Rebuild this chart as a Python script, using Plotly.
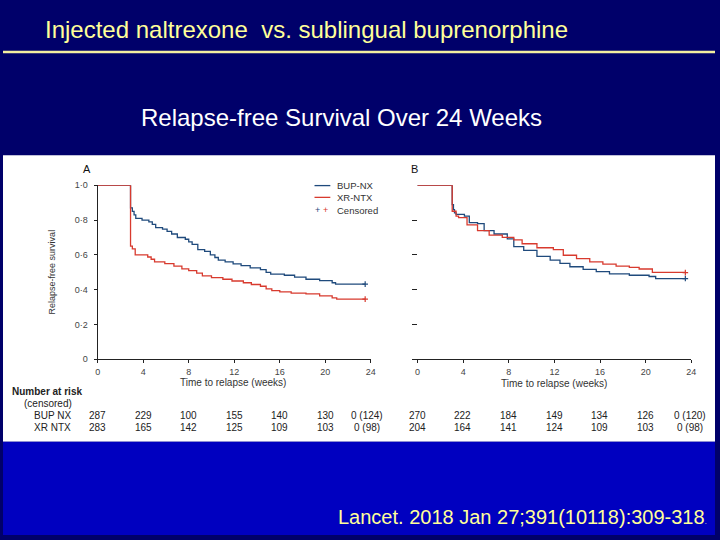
import plotly.graph_objects as go

W, H = 720, 540

# ---------------- data ----------------
weeks_ticks = [0, 4, 8, 12, 16, 20, 24]
y_tick_vals = [0, 0.2, 0.4, 0.6, 0.8, 1.0]
y_tick_text = ["0", "0·2", "0·4", "0·6", "0·8", "1·0"]

a_bup_weeks = [0, 2.89, 3.05, 3.2, 3.35, 3.9, 4.5, 4.8, 5.1, 5.7, 6.1, 6.5, 7.0, 7.7, 8.0, 8.3, 8.8, 9.4,
               9.9, 10.3, 10.6, 11.2, 11.9, 12.6, 13.4, 14.3, 14.8, 15.2, 16.4, 17.3, 18.3, 19.5, 20.6, 20.9, 23.5]
a_bup_surv = [1.0, 0.87, 0.85, 0.83, 0.81, 0.80, 0.79, 0.775, 0.757, 0.748, 0.735, 0.72, 0.70, 0.69, 0.675, 0.66,
              0.63, 0.62, 0.60, 0.585, 0.57, 0.56, 0.548, 0.538, 0.525, 0.515, 0.50, 0.49, 0.483, 0.472, 0.46,
              0.452, 0.44, 0.432, 0.432]

a_ntx_weeks = [0, 2.89, 3.05, 3.3, 4.4, 4.7, 5.0, 5.9, 6.7, 7.4, 8.0, 8.7, 9.2, 10.0, 11.0, 11.8, 12.8, 13.5,
               14.3, 14.8, 15.3, 16.0, 17.0, 18.3, 19.5, 20.6, 21.0, 23.5]
a_ntx_surv = [1.0, 0.65, 0.635, 0.60, 0.588, 0.575, 0.56, 0.55, 0.535, 0.52, 0.51, 0.495, 0.48, 0.47, 0.46, 0.45,
              0.44, 0.43, 0.42, 0.405, 0.395, 0.388, 0.38, 0.376, 0.365, 0.353, 0.346, 0.346]

b_bup_weeks = [0, 3.04, 3.15, 3.24, 3.38, 4.11, 4.54, 5.26, 5.84, 6.71, 7.87, 8.44, 9.31, 10.47, 11.63, 12.49,
               13.36, 14.52, 15.67, 16.83, 18.57, 20.3, 20.88, 23.48]
b_bup_surv = [1.0, 0.889, 0.86, 0.842, 0.833, 0.823, 0.786, 0.78, 0.739, 0.72, 0.692, 0.648, 0.626, 0.592, 0.57,
              0.551, 0.532, 0.517, 0.504, 0.491, 0.483, 0.476, 0.464, 0.464]

b_ntx_weeks = [0, 3.04, 3.38, 3.6, 4.34, 5.26, 6.28, 7.43, 8.44, 9.17, 10.47, 11.91, 12.78, 13.94, 15.1, 16.25,
               17.41, 18.57, 19.43, 20.59, 23.48]
b_ntx_surv = [1.0, 0.851, 0.823, 0.814, 0.773, 0.739, 0.714, 0.701, 0.686, 0.664, 0.641, 0.63, 0.598, 0.579,
              0.56, 0.547, 0.536, 0.528, 0.519, 0.50, 0.498]

risk_a_bup = ["287", "229", "100", "155", "140", "130", "0 (124)"]
risk_a_ntx = ["283", "165", "142", "125", "109", "103", "0 (98)"]
risk_b_bup = ["270", "222", "184", "149", "134", "126", "0 (120)"]
risk_b_ntx = ["204", "164", "141", "124", "109", "103", "0 (98)"]

# ---------------- styles ----------------
NAVY_TOP = "#00006a"
BLUE_BOT = "#0000c0"
YELLOW = "#ffff99"
C_BUP = "#1f4a7c"
C_NTX = "#d83a2e"
GREY = "#333333"
NARROW = "Liberation Sans Narrow, Arial Narrow, Liberation Sans, sans-serif"
SANS = "Liberation Sans, Arial, sans-serif"


def px(x):
    return x / W


def py(y):
    return 1 - y / H


fig = go.Figure()

for xa, ya, wk, sv, col in [
    ("x", "y", a_bup_weeks, a_bup_surv, C_BUP),
    ("x", "y", a_ntx_weeks, a_ntx_surv, C_NTX),
    ("x2", "y2", b_bup_weeks, b_bup_surv, C_BUP),
    ("x2", "y2", b_ntx_weeks, b_ntx_surv, C_NTX),
]:
    fig.add_trace(go.Scatter(x=wk, y=sv, xaxis=xa, yaxis=ya, mode="lines",
                             line=dict(color=col, width=1.3, shape="hv"),
                             showlegend=False, hoverinfo="skip"))
    fig.add_trace(go.Scatter(x=[wk[-1]], y=[sv[-1]], xaxis=xa, yaxis=ya, mode="markers",
                             marker=dict(symbol="cross-thin", size=4, line=dict(color=col, width=1.2)),
                             showlegend=False, hoverinfo="skip"))

tickfont = dict(family=NARROW, size=9, color="#444444")

fig.update_layout(
    width=W, height=H,
    margin=dict(l=0, r=0, t=0, b=0),
    paper_bgcolor=NAVY_TOP,
    plot_bgcolor="rgba(0,0,0,0)",
    xaxis=dict(domain=[px(95.7), px(372)], range=[0, 24], tickvals=weeks_ticks,
               showline=True, linecolor="#222222", linewidth=1, ticks="outside", ticklen=3,
               tickcolor="#222222", showgrid=False, zeroline=False, tickfont=tickfont,
               ticklabelstandoff=1, anchor="y", fixedrange=True),
    yaxis=dict(domain=[py(361), py(183.7)], range=[0, 1], tickvals=y_tick_vals, ticktext=y_tick_text,
               showline=True, linecolor="#222222", linewidth=1, ticks="outside", ticklen=3,
               tickcolor="#222222", showgrid=False, zeroline=False, tickfont=tickfont,
               ticklabelstandoff=4, anchor="x", fixedrange=True),
    xaxis2=dict(domain=[px(414), px(696)], range=[-0.45, 24], tickvals=weeks_ticks,
                showline=True, linecolor="#222222", linewidth=1, ticks="outside", ticklen=3,
                tickcolor="#222222", showgrid=False, zeroline=False, tickfont=tickfont,
                ticklabelstandoff=1, anchor="y2", fixedrange=True),
    yaxis2=dict(domain=[py(361), py(183.7)], range=[0, 1], tickvals=[0.2, 0.4, 0.6, 0.8],
                showticklabels=False, showline=False, ticks="outside", ticklen=5,
                tickcolor="#222222", showgrid=False, zeroline=False,
                anchor="free", position=px(419), fixedrange=True),
)

shapes = [
    dict(type="rect", xref="paper", yref="paper", x0=0, x1=1, y0=py(445), y1=py(153),
         fillcolor="white", line=dict(width=0), layer="below"),
    dict(type="rect", xref="paper", yref="paper", x0=0, x1=1, y0=0, y1=py(445),
         fillcolor=BLUE_BOT, line=dict(width=0), layer="below"),
    dict(type="line", xref="paper", yref="paper", x0=0, x1=1, y0=py(48), y1=py(48),
         line=dict(color="#f3eea0", width=2.5)),
    # legend lines
    dict(type="line", xref="paper", yref="paper", x0=px(315), x1=px(331), y0=py(184), y1=py(184),
         line=dict(color=C_BUP, width=1.3)),
    dict(type="line", xref="paper", yref="paper", x0=px(315), x1=px(331), y0=py(196), y1=py(196),
         line=dict(color=C_NTX, width=1.3)),
]
fig.update_layout(shapes=shapes)

ann = []


def text(x, y, s, size, color, family=SANS, xanchor="left", **kw):
    ann.append(dict(x=px(x), y=py(y), xref="paper", yref="paper", text=s, showarrow=False,
                    xanchor=xanchor, yanchor="middle", font=dict(size=size, color=color, family=family),
                    **kw))


text(40, 25, "Injected naltrexone  vs. sublingual buprenorphine", 24, YELLOW)
text(138, 115, "Relapse-free Survival Over 24 Weeks", 24, "white")
text(337, 522, "Lancet. 2018 Jan 27;391(10118):309-318<span style='font-size:9px;color:#bbbbbb'>.</span>",
     20, YELLOW)

text(85, 167, "A", 11, "#111111", family=SANS, xanchor="center")
text(416, 167, "B", 11, "#111111", family=SANS, xanchor="center")

text(233, 385, "Time to relapse (weeks)", 10, GREY, family=NARROW, xanchor="center")
text(557, 386, "Time to relapse (weeks)", 10, GREY, family=NARROW, xanchor="center")
text(50, 272, "Relapse-free survival", 9, GREY, family=NARROW, xanchor="center", textangle=-90)

# legend
text(336, 184, "BUP-NX", 9.5, GREY, family=NARROW)
text(336, 196, "XR-NTX", 9.5, GREY, family=NARROW)
text(336, 209, "Censored", 9.5, GREY, family=NARROW)
text(318, 209, "+", 9, C_BUP, family=NARROW, xanchor="center")
text(326, 209, "+", 9, C_NTX, family=NARROW, xanchor="center")

# number at risk
text(7, 394, "<b>Number at risk</b>", 10, "#222222", family=NARROW)
text(72, 406, "(censored)", 10, "#222222", family=NARROW, xanchor="right")
text(71, 418, "BUP NX", 10, "#222222", family=NARROW, xanchor="right")
text(71, 430, "XR NTX", 10, "#222222", family=NARROW, xanchor="right")

a_x0, a_step = 95.7, (372 - 95.7) / 24
b_x0, b_step = 419, (696 - 419) / 24
for i, wk in enumerate(weeks_ticks):
    xa = a_x0 + wk * a_step
    xb = b_x0 + wk * b_step
    if i == len(weeks_ticks) - 1:
        xa -= 4
        xb -= 1
    text(xa, 418, risk_a_bup[i], 10, "#222222", family=NARROW, xanchor="center")
    text(xa, 430, risk_a_ntx[i], 10, "#222222", family=NARROW, xanchor="center")
    text(xb, 418, risk_b_bup[i], 10, "#222222", family=NARROW, xanchor="center")
    text(xb, 430, risk_b_ntx[i], 10, "#222222", family=NARROW, xanchor="center")

fig.update_layout(annotations=ann)

fig.write_html("out.html")
